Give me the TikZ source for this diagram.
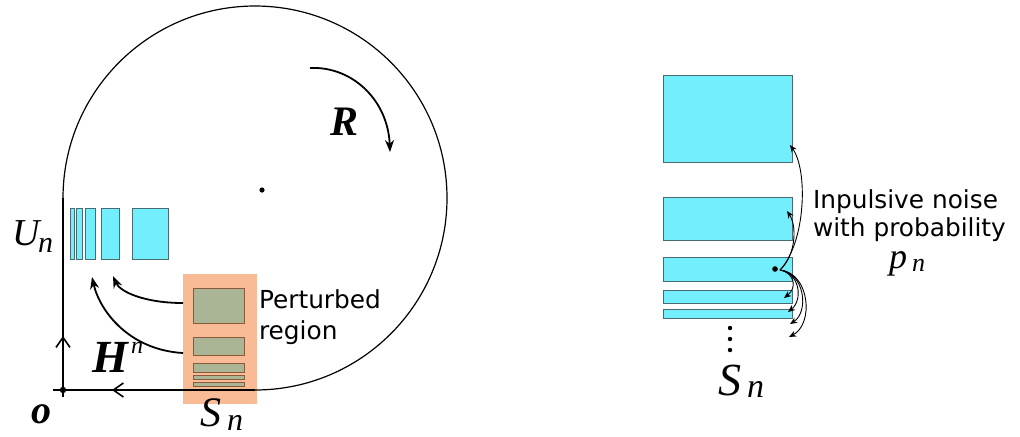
\documentclass[tikz,border=0pt]{standalone}
\usepackage{fontspec}
\setmainfont{Liberation Serif}
\newfontfamily\dvs{DejaVu Sans}
\usetikzlibrary{arrows.meta}
\definecolor{cyfill}{HTML}{72EEFC}
\definecolor{cyline}{HTML}{4A6A72}
\definecolor{orfill}{HTML}{F9BB96}
\definecolor{grfill}{HTML}{A9B595}
\definecolor{grline}{HTML}{8A5A3A}
\newcommand{\fs}[1]{\fontsize{#1}{#1}\selectfont}
\begin{document}
\begin{tikzpicture}[x=0.5pt,y=-0.5pt,
  cybox/.style={fill=cyfill,draw=cyline,line width=0.5pt,inner sep=0,outer sep=0},
  grbox/.style={fill=grfill,draw=grline,line width=0.5pt,inner sep=0,outer sep=0},
  lbl/.style={inner sep=0,outer sep=0,anchor=base west},
  sans/.style={lbl,font=\dvs\fs{12.4}},
  bigarrow/.style={line width=0.9pt,-{Stealth[length=6pt,width=4.5pt]}},
  thinarrow/.style={line width=0.45pt,-{Stealth[length=3.6pt,width=3pt]}},
  midarrow/.style={line width=0.8pt,-{Straight Barb[length=5pt,width=7pt,line width=0.8pt]}},
]
\useasboundingbox (0,0) rectangle (1020,436);
% ---------- left panel ----------
\node[fill=orfill,minimum width=37pt,minimum height=65pt,inner sep=0] (pert) at (220,339) {};
\node[grbox,minimum width=25.5pt,minimum height=17.5pt] (g1) at (218.5,305.5) {};
\node[grbox,minimum width=25.5pt,minimum height=9pt] (g2) at (218.5,346) {};
\node[grbox,minimum width=25.5pt,minimum height=4.5pt] (g3) at (218.5,367.5) {};
\node[grbox,minimum width=25.5pt,minimum height=2pt] (g4) at (218.5,377) {};
\node[grbox,minimum width=25.5pt,minimum height=2pt] (g5) at (218.5,384) {};

\node[cybox,minimum width=2pt,minimum height=25.5pt] (u1) at (72,233.5) {};
\node[cybox,minimum width=3pt,minimum height=25.5pt] (u2) at (79,233.5) {};
\node[cybox,minimum width=5pt,minimum height=25.5pt] (u3) at (90,233.5) {};
\node[cybox,minimum width=9pt,minimum height=25.5pt] (u4) at (110,233.5) {};
\node[cybox,minimum width=18pt,minimum height=25.5pt] (u5) at (150,233.5) {};

\coordinate (O) at (63,390);
\coordinate (L) at (63,198);
\coordinate (B) at (255,390);
\coordinate (xend) at (53,390);
\coordinate (yend) at (63,397);
\draw[line width=0.6pt] (L) arc[start angle=180,end angle=-90,radius=96pt];
\draw[line width=0.6pt] (B) -- (xend);
\draw[line width=0.6pt] (yend) -- (L);
\coordinate (ha) at (135,390); \coordinate (hb) at (112,390);
\coordinate (va) at (63,360); \coordinate (vb) at (63,336);
\draw[midarrow] (ha) -- (hb);
\draw[midarrow] (va) -- (vb);
\fill (O) circle (1.6pt);
\node[fill,circle,inner sep=0,minimum size=2.6pt] (ctr) at (262,190) {};

% H^n arrows
\coordinate (h1s) at (183,303); \coordinate (h1e) at (113,276);
\coordinate (h2s) at (183,353); \coordinate (h2e) at (92,277);
\draw[bigarrow] (h1s) .. controls (145,303) and (120,292) .. (h1e);
\draw[bigarrow] (h2s) .. controls (130,350) and (100,312) .. (h2e);

% R arrow
\coordinate (r1) at (310,68); \coordinate (r2) at (390,152);
\draw[bigarrow] (r1) .. controls (352,66) and (388,100) .. (r2);

% labels
\node[lbl,font=\fs{19}\itshape] (U) at (12,245) {U};
\node[lbl,font=\fs{15}\itshape] (Un) at (38,252) {n};
\node[lbl,font=\fs{23}\bfseries\itshape] (H) at (92,372) {H};
\node[lbl,font=\fs{12}\itshape] (Hn) at (131,353) {n};
\node[lbl,font=\fs{21}\bfseries\itshape] (R) at (330,135) {R};
\node[lbl,font=\fs{20}\bfseries\itshape] (o) at (32,423) {o};
\node[lbl,font=\fs{21}\itshape] (S1) at (200,426) {S};
\node[lbl,font=\fs{16}\itshape] (S1n) at (227,430) {n};
\node[sans] (pt1) at (259,308) {Perturbed};
\node[sans] (pt2) at (259,339) {region};

% ---------- right panel ----------
\node[cybox,minimum width=64.5pt,minimum height=43.5pt] (A) at (727.5,118.5) {};
\node[cybox,minimum width=64.5pt,minimum height=21.5pt] (Bb) at (727.5,218.5) {};
\node[cybox,minimum width=64.5pt,minimum height=12pt] (C) at (727.5,269) {};
\node[cybox,minimum width=64.5pt,minimum height=6.5pt] (D) at (727.5,296.5) {};
\node[cybox,minimum width=64.5pt,minimum height=4.5pt] (E) at (727.5,313.5) {};

\node[fill,circle,inner sep=0,minimum size=2.8pt] (p) at (775,269) {};
\coordinate (ps) at (780,270);
\coordinate (ta) at (790,145);
\coordinate (tb) at (787,211);
\coordinate (t1) at (784,298);
\coordinate (t2) at (788,312);
\coordinate (t3) at (790,324);
\coordinate (t4) at (789,337);
\draw[thinarrow] (ps) .. controls (806,242) and (808,170) .. (ta);
\draw[thinarrow] (ps) .. controls (796,255) and (797,226) .. (tb);
\draw[thinarrow] (ps) .. controls (795,273) and (797,288) .. (t1);
\draw[thinarrow] (ps) .. controls (800,273) and (803,300) .. (t2);
\draw[thinarrow] (ps) .. controls (805,273) and (809,312) .. (t3);
\draw[thinarrow] (ps) .. controls (810,273) and (814,324) .. (t4);

\node[fill,circle,inner sep=0,minimum size=2.2pt] (d1) at (730,328) {};
\node[fill,circle,inner sep=0,minimum size=2.2pt] (d2) at (730,339) {};
\node[fill,circle,inner sep=0,minimum size=2.2pt] (d3) at (730,350) {};

\node[lbl,font=\fs{23}\itshape] (S2) at (718,395) {S};
\node[lbl,font=\fs{17}\itshape] (S2n) at (747,397) {n};

\node[sans] (in1) at (813,208) {Inpulsive noise};
\node[sans] (in2) at (813,236) {with probability};
\node[lbl,font=\fs{18}\itshape] (pp) at (889,268) {p};
\node[lbl,font=\fs{13}\itshape] (ppn) at (912,271) {n};
\end{tikzpicture}
\end{document}
